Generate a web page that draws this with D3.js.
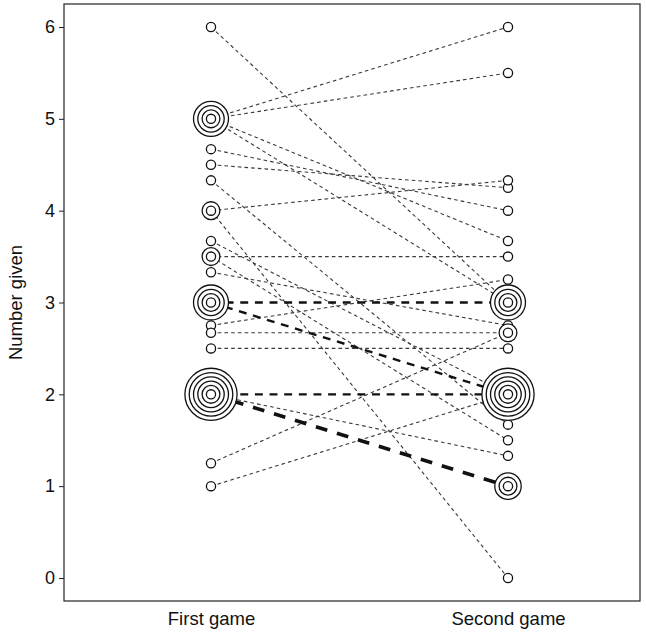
<!DOCTYPE html>
<html>
<head>
<meta charset="utf-8">
<script src="https://cdn.jsdelivr.net/npm/d3@7"></script>
<style>
  body { margin: 0; background: #fff; }
  text { font-family: "Liberation Sans", Arial, sans-serif; }
</style>
</head>
<body>
<div id="chart"></div>
<script>
  // one entry per player: number given in the first and in the second game
  const firstGame  = [6, 5, 5, 5, 5, 4.67, 4.5, 4.33, 4, 4, 3.67, 3.5, 3.5, 3.33, 3, 3, 3, 3, 2.75, 2.67, 2.5, 2, 2, 2, 2, 2, 2, 1.25, 1];
  const secondGame = [3, 6, 5.5, 3.67, 3, 4, 4.25, 1.67, 4.33, 0, 2, 3.5, 1.5, 2.75, 3, 3, 2, 2, 3.25, 2.67, 2.5, 2, 2, 1, 1, 1, 1.33, 2.67, 2];
  const games = ['First game', 'Second game'];
  const yTicks = [0, 1, 2, 3, 4, 5, 6];

  const width = 646, height = 632;
  const box = { left: 64, right: 640, top: 4, bottom: 601 };

  const svg = d3.select('#chart')
    .append('svg')
    .attr('width', width)
    .attr('height', height);

  const x = d3.scalePoint()
    .domain(games)
    .range([box.left + 147, box.right - 132]);

  const y = d3.scaleLinear()
    .domain([0, 6])
    .range([578, 27]);

  // group identical transitions, line weight follows the count
  const pairs = d3.rollups(firstGame.map((f, i) => [f, secondGame[i]]), v => v.length, d => d[0] + '|' + d[1])
    .map(([k, n]) => { const p = k.split('|').map(Number); return { a: p[0], b: p[1], n: n }; });

  const lw = n => [1.1, 2.4, 3.6][n - 1];

  svg.append('g')
    .selectAll('line')
    .data(pairs.sort((p, q) => p.n - q.n))
    .join('line')
    .attr('x1', x(games[0]))
    .attr('x2', x(games[1]))
    .attr('y1', d => y(d.a))
    .attr('y2', d => y(d.b))
    .attr('stroke', d => d.n > 1 ? '#111' : '#3a3a3a')
    .attr('stroke-width', d => lw(d.n))
    .attr('stroke-dasharray', d => `${3.3 * lw(d.n)} ${2.8 * lw(d.n)}`);

  // concentric rings: one ring per player at that value
  const rings = [];
  [firstGame, secondGame].forEach((vals, gi) => {
    d3.rollups(vals, v => v.length, d => d).forEach(([v, n]) => {
      for (let k = n; k >= 1; k--) rings.push({ game: games[gi], v: v, r: 4.6 + (k - 1) * 4.3 });
    });
  });

  svg.append('g')
    .selectAll('circle')
    .data(rings)
    .join('circle')
    .attr('cx', d => x(d.game))
    .attr('cy', d => y(d.v))
    .attr('r', d => d.r)
    .attr('fill', '#fff')
    .attr('stroke', '#111')
    .attr('stroke-width', 1.3);

  // frame
  svg.append('rect')
    .attr('x', box.left)
    .attr('y', box.top)
    .attr('width', box.right - box.left)
    .attr('height', box.bottom - box.top)
    .attr('fill', 'none')
    .attr('stroke', '#222')
    .attr('stroke-width', 1.2);

  const yAxis = svg.append('g')
    .attr('transform', `translate(${box.left},0)`)
    .call(d3.axisLeft(y).tickValues(yTicks).tickSize(5).tickPadding(4).tickFormat(d3.format('d')));
  yAxis.select('.domain').remove();
  yAxis.selectAll('line').attr('stroke', '#222');
  yAxis.selectAll('text').attr('font-size', 18).attr('fill', '#111');

  const xAxis = svg.append('g')
    .attr('transform', `translate(0,${box.bottom})`)
    .call(d3.axisBottom(x).tickSize(0).tickPadding(11));
  xAxis.select('.domain').remove();
  xAxis.selectAll('text').attr('font-size', 18.5).attr('fill', '#111');

  svg.append('text')
    .attr('transform', `translate(22,${(box.top + box.bottom) / 2}) rotate(-90)`)
    .attr('text-anchor', 'middle')
    .attr('font-size', 18.5)
    .attr('fill', '#111')
    .text('Number given');
</script>
</body>
</html>
